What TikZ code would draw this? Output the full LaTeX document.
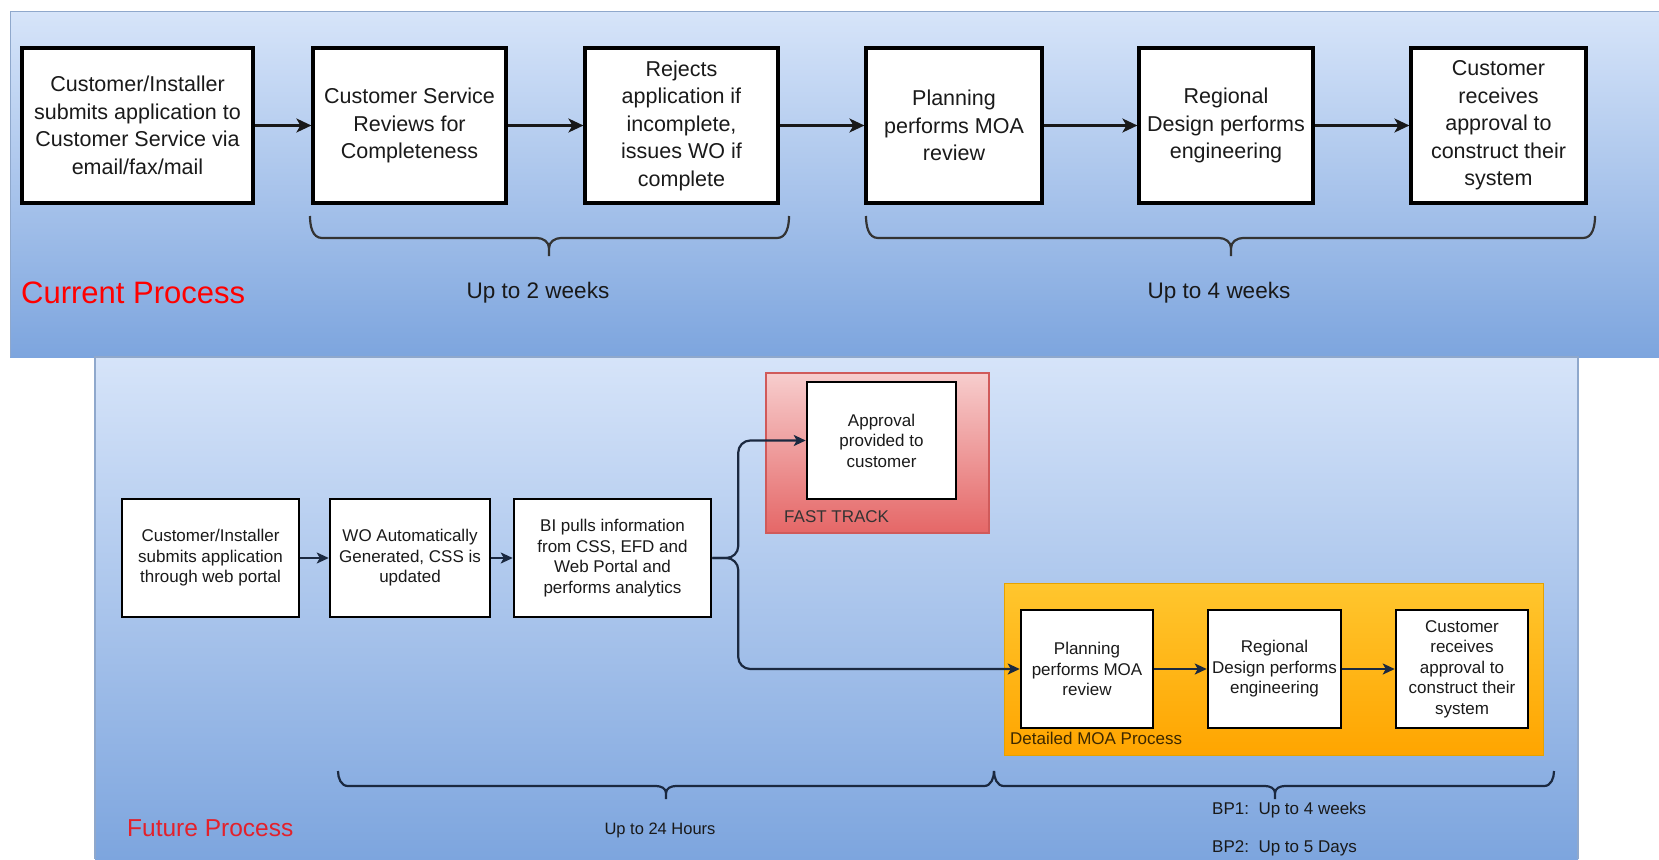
\documentclass[tikz,border=0pt]{standalone}
\usepackage{fontspec}
\setmainfont{Liberation Sans}
\usetikzlibrary{arrows.meta}
\definecolor{paneltop}{HTML}{D6E4F9}
\definecolor{panelbot}{HTML}{7DA5DE}
\definecolor{panelline}{HTML}{8FA8CC}
\definecolor{fasttop}{HTML}{F7CDCD}
\definecolor{fastbot}{HTML}{E56767}
\definecolor{fastline}{HTML}{D05A5A}
\definecolor{orgtop}{HTML}{FFC62E}
\definecolor{orgbot}{HTML}{FFA500}
\definecolor{orgline}{HTML}{E6A200}
\definecolor{navy}{HTML}{1B2940}
\definecolor{boxtext}{HTML}{1A1A1A}
\definecolor{redA}{HTML}{FF0000}
\definecolor{redB}{HTML}{E3212B}
\begin{document}
\begin{tikzpicture}[x=1pt,y=-1pt,
  tbox/.style={draw=black, line width=3.2pt, fill=white, inner sep=0pt, align=center,
    text=boxtext, font=\fontsize{21.5}{27.5}\selectfont, minimum height=155pt},
  bbox/.style={draw=black, line width=2.5pt, fill=white, inner sep=0pt, align=center,
    text=boxtext, font=\fontsize{17}{20.5}\selectfont, minimum height=118pt},
  tarr/.style={draw=black!90, line width=2.2pt, -{Stealth[length=15pt,width=14pt,inset=4pt]}},
  barr/.style={draw=navy, line width=2.2pt, -{Stealth[length=12pt,width=11pt,inset=3pt]}},
  tbrace/.style={draw=black!80, line width=2.2pt},
  bbrace/.style={draw=navy, line width=2.2pt},
  ttext/.style={font=\fontsize{22.5}{27}\selectfont, text=black!90},
  btext/.style={font=\fontsize{17}{20}\selectfont, text=black!90, inner sep=0pt}]
\useasboundingbox (0,0) rectangle (1659,859);
\fill[white] (0,0) rectangle (1659,859);
% panels
\shade[top color=paneltop, bottom color=panelbot] (10,12) rectangle (1659,357);
\draw[panelline, line width=1pt] (10,357) -- (10,12) -- (1659,12);
\shade[top color=paneltop, bottom color=panelbot] (95,357) rectangle (1578,859);
\draw[panelline, line width=1.5pt] (95,859) -- (95,357) -- (1578,357) -- (1578,859);

% ---------- current process ----------
\node[tbox, minimum width=231pt] (t1) at (137.5,125.5) {Customer/Installer\\submits application to\\Customer Service via\\email/fax/mail};
\node[tbox, minimum width=193pt] (t2) at (409.5,125.5) {Customer Service\\Reviews for\\Completeness};
\node[tbox, minimum width=193pt] (t3) at (681.5,125.5) {Rejects\\application if\\incomplete,\\issues WO if\\complete};
\node[tbox, minimum width=176pt] (t4) at (954,125.5) {Planning\\performs MOA\\review};
\node[tbox, minimum width=174pt] (t5) at (1226,125.5) {Regional\\Design performs\\engineering};
\node[tbox, minimum width=175pt] (t6) at (1498.5,125.5) {Customer\\receives\\approval to\\construct their\\system};
\draw[tarr] (t1) -- (t2);
\draw[tarr] (t2) -- (t3);
\draw[tarr] (t3) -- (t4);
\draw[tarr] (t4) -- (t5);
\draw[tarr] (t5) -- (t6);

% braces top
\draw[tbrace] (310,216) to[out=-90,in=180] (322,238) -- (537,238) to[out=0,in=90] (549,248) -- (549,256);
\draw[tbrace] (549,248) to[out=90,in=180] (561,238) -- (777,238) to[out=0,in=-90] (789,216);
\draw[tbrace] (866,216) to[out=-90,in=180] (878,238) -- (1219,238) to[out=0,in=90] (1231,248) -- (1231,256);
\draw[tbrace] (1231,248) to[out=90,in=180] (1243,238) -- (1583,238) to[out=0,in=-90] (1595,216);

\node[anchor=west, inner sep=0pt, text=redA, font=\fontsize{31}{36}\selectfont] (cur) at (21,293) {Current Process};
\node[ttext] (w2) at (538,293) {Up to 2 weeks};
\node[ttext] (w4) at (1219,293) {Up to 4 weeks};

% ---------- future process ----------
\node[draw=fastline, line width=1.2pt, top color=fasttop, bottom color=fastbot, minimum width=223pt, minimum height=160pt, inner sep=0pt] (fast) at (877.5,453) {};
\node[draw=orgline, line width=1pt, top color=orgtop, bottom color=orgbot, minimum width=539pt, minimum height=172pt, inner sep=0pt] (moa) at (1273.5,669) {};

\node[bbox, minimum width=177pt] (b1) at (210.5,558) {Customer/Installer\\submits application\\through web portal};
\node[bbox, minimum width=160pt] (b2) at (410,558) {WO Automatically\\Generated, CSS is\\updated};
\node[bbox, minimum width=197pt] (b3) at (612.5,558) {BI pulls information\\from CSS, EFD and\\Web Portal and\\performs analytics};
\node[bbox, minimum width=149pt, minimum height=117pt] (appr) at (881.5,440.5) {Approval\\provided to\\customer};
\node[bbox, minimum width=132pt] (p1) at (1087,669) {Planning\\performs MOA\\review};
\node[bbox, minimum width=133pt] (p2) at (1274.5,669) {Regional\\Design performs\\engineering};
\node[bbox, minimum width=132pt] (p3) at (1462,669) {Customer\\receives\\approval to\\construct their\\system};

\node[btext, anchor=west, text=black!80] (ftl) at (784,517) {FAST TRACK};
\node[btext, anchor=west, text={rgb,255:red,60;green,40;blue,0}] (ml) at (1010,738) {Detailed MOA Process};

\draw[barr] (b1) -- (b2);
\draw[barr] (b2) -- (b3);
\draw[barr, rounded corners=12pt] (b3.east) -- ++(26,0) |- (appr.west);
\draw[barr, rounded corners=12pt] (b3.east) -- ++(26,0) |- (p1.west);
\draw[barr] (p1) -- (p2);
\draw[barr] (p2) -- (p3);

% braces bottom
\draw[bbrace] (338,771) to[out=-90,in=180] (348,786) -- (656,786) to[out=0,in=90] (666,793) -- (666,799);
\draw[bbrace] (666,793) to[out=90,in=180] (676,786) -- (984,786) to[out=0,in=-90] (994,771);
\draw[bbrace] (994,771) to[out=-90,in=180] (1004,786) -- (1265,786) to[out=0,in=90] (1275,793) -- (1275,799);
\draw[bbrace] (1275,793) to[out=90,in=180] (1285,786) -- (1544,786) to[out=0,in=-90] (1554,771);

\node[anchor=west, inner sep=0pt, text=redB, font=\fontsize{24.5}{28}\selectfont] (fut) at (127,828) {Future Process};
\node[btext, font=\fontsize{16.5}{20}\selectfont] (h24) at (660,830) {Up to 24 Hours};
\node[btext, anchor=west] (bp1) at (1212,810) {BP1:\ \ Up to 4 weeks};
\node[btext, anchor=west] (bp2) at (1212,848) {BP2:\ \ Up to 5 Days};
\end{tikzpicture}
\end{document}
